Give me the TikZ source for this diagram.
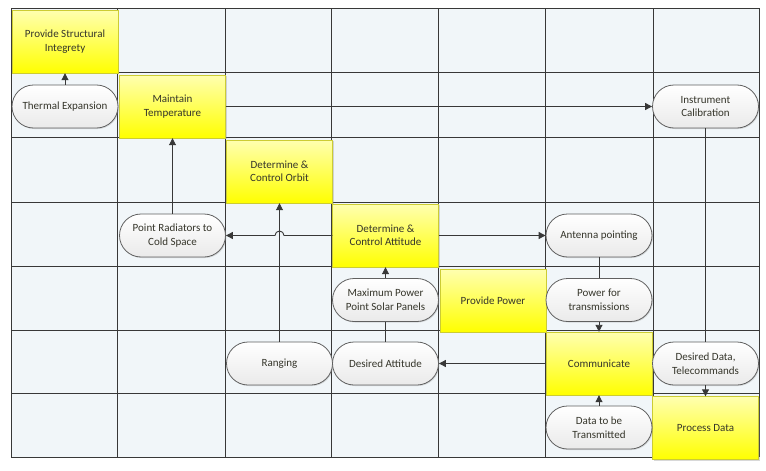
\documentclass[tikz,border=0pt]{standalone}
\usepackage{fontspec}
\setmainfont{Carlito}
\usetikzlibrary{arrows.meta,shadows,shapes.misc}
\definecolor{gridc}{HTML}{383838}
\definecolor{cellbg}{HTML}{F1F6F9}
\definecolor{ytop}{HTML}{FFFFB0}
\definecolor{ybot}{HTML}{FFFF00}
\definecolor{ptop}{HTML}{FFFFFF}
\definecolor{pbot}{HTML}{EAEAEA}
\definecolor{txt}{HTML}{35352A}
\definecolor{pline}{HTML}{606060}
\begin{document}
\begin{tikzpicture}[x=1pt,y=-1pt,
  gridline/.style={draw=gridc, line width=0.9pt},
  func/.style={rectangle, draw=ybot!60!gray, line width=0.4pt, top color=ytop, bottom color=ybot,
    minimum width=106pt, minimum height=63pt, inner sep=0pt, align=center,
    font=\fontsize{11}{13.5}\selectfont, text=txt,
    drop shadow={shadow xshift=1pt, shadow yshift=-1pt, opacity=0.3}},
  iface/.style={rounded rectangle, draw=pline, line width=0.8pt, top color=ptop, bottom color=pbot,
    minimum width=106pt, minimum height=43pt, inner sep=0pt, align=center,
    font=\fontsize{11}{13.5}\selectfont, text=txt,
    drop shadow={shadow xshift=1pt, shadow yshift=-1pt, opacity=0.25}},
  arr/.style={draw=gridc, line width=0.9pt, -{Triangle[length=7pt,width=7pt]}},
  conn/.style={draw=gridc, line width=0.9pt}]
\useasboundingbox (0,0) rectangle (766,471);
\fill[white] (0,0) rectangle (766,471);
% grid
\fill[cellbg] (11,8) rectangle (759,457);
\foreach \x in {11,117,225,331,438,545,653,759} \draw[gridline] (\x,8) -- (\x,457);
\foreach \y in {8,72,137,202,266,330,393,457} \draw[gridline] (11,\y) -- (759,\y);
% functions
\node[func] (PSI) at (65,41.5) {Provide Structural\\Integrety};
\node[func] (MT) at (172.5,106.5) {Maintain\\Temperature};
\node[func] (DCO) at (279.5,171.5) {Determine \&\\Control Orbit};
\node[func] (DCA) at (385.5,235.5) {Determine \&\\Control Attitude};
\node[func] (PP) at (493,300.5) {Provide Power};
\node[func] (Comm) at (599,363.5) {Communicate};
\node[func] (PD) at (705.5,428) {Process Data};
% interfaces
\node[iface] (TE) at (65,106.5) {Thermal Expansion};
\node[iface] (IC) at (705.5,106.5) {Instrument\\Calibration};
\node[iface] (PR) at (172.5,235.5) {Point Radiators to\\Cold Space};
\node[iface] (AP) at (599,235.5) {Antenna pointing};
\node[iface] (MP) at (385.5,300) {Maximum Power\\Point Solar Panels};
\node[iface] (PfT) at (599,300) {Power for\\transmissions};
\node[iface] (Rng) at (279.5,363.5) {Ranging};
\node[iface] (DA) at (385.5,363.5) {Desired Attitude};
\node[iface] (DD) at (705.5,363.5) {Desired Data,\\Telecommands};
\node[iface] (DT) at (599,427.5) {Data to be\\Transmitted};
% connectors
\draw[arr] (TE.north) -- (PSI.south);
\draw[arr] (MT.east) -- (IC.west);
\draw[arr] (PR.north) -- (MT.south);
\draw[arr] (Rng.north) -- (DCO.south);
\draw[arr] (DCA.west) -- ([xshift=4.5pt]DCA.west -| Rng.north) arc[start angle=0,end angle=180,radius=4.5pt] -- (PR.east);
\draw[arr] (DCA.east) -- (AP.west);
\draw[conn] (AP.south) -- (PfT.north);
\draw[arr] (PfT.south) -- (Comm.north);
\draw[arr] (Comm.west) -- (DA.east);
\draw[conn] (DA.north) -- (MP.south);
\draw[arr] (MP.north) -- (DCA.south);
\draw[conn] (IC.south) -- (DD.north);
\draw[arr] (DD.south) -- (PD.north);
\draw[arr] (DT.north) -- (Comm.south);
\end{tikzpicture}
\end{document}
